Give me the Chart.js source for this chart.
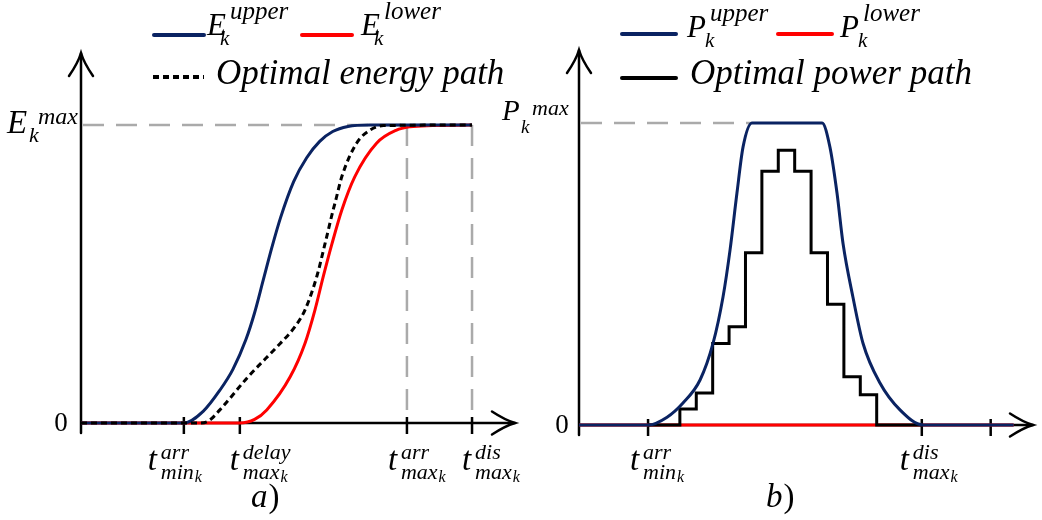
<!DOCTYPE html>
<html>
<head>
<meta charset="utf-8">
<title>Energy and power bounds of vehicle k</title>
<script src="https://cdn.jsdelivr.net/npm/chart.js@4.4.1/dist/chart.umd.min.js"></script>
<style>
  html, body { margin: 0; padding: 0; background: #ffffff; font-family: "Liberation Serif"; }
  #figure { position: relative; width: 1042px; height: 520px; overflow: hidden; background: #ffffff; }
  #figure canvas { position: absolute; top: 0; }
</style>
</head>
<body>
<div id="figure">
  <canvas id="energyPanel" width="545" height="520" style="left:0px"></canvas>
  <canvas id="powerPanel" width="562" height="520" style="left:480px"></canvas>
</div>
<script>
// ---------- panel a) : energy ----------
const energyMax = 1;
const energyUpperT = [0, 2.37, 2.82, 3.20, 3.50, 3.80, 4.00, 4.20, 4.40, 4.60, 4.90, 5.20, 5.50, 5.80, 6.15, 6.66, 9.01];
const energyUpper  = [0, 0, 0.04, 0.11, 0.18, 0.28, 0.37, 0.48, 0.59, 0.69, 0.81, 0.89, 0.945, 0.978, 0.995, 1.0, 1.0];
const energyLowerT = [0, 3.66, 4.00, 4.28, 4.82, 5.16, 5.39, 5.58, 5.78, 6.01, 6.31, 6.81, 7.27, 7.58, 8.10, 9.01];
const energyLower  = [0, 0, 0.012, 0.044, 0.155, 0.267, 0.379, 0.49, 0.60, 0.715, 0.827, 0.939, 0.983, 0.994, 0.998, 1.0];
const energyPathT  = [0, 2.74, 2.95, 3.20, 3.85, 4.59, 4.93, 5.16, 5.43, 5.62, 5.81, 5.87, 6.01, 6.35, 6.66, 6.97, 9.01];
const energyPath   = [0, 0, 0.008, 0.044, 0.155, 0.267, 0.323, 0.379, 0.49, 0.60, 0.715, 0.748, 0.827, 0.939, 0.983, 0.998, 1.0];
const energyTicks   = [2.37, 3.66, 7.51, 9.01];
const energyTickSup = ['arr', 'delay', 'arr', 'dis'];
const energyTickSub = ['min', 'max', 'max', 'max'];

// ---------- panel b) : power ----------
const powerMax = 1;
const powerUpperT = [0, 4.21, 5.37, 6.34, 7.38, 8.17, 8.78, 9.21, 9.63, 10.0, 10.55, 14.82, 15.30, 15.73, 16.1, 16.7, 17.32, 18.35, 19.57, 20.98, 26.5];
const powerUpper  = [0, 0, 0.026, 0.073, 0.149, 0.27, 0.424, 0.58, 0.768, 0.92, 1.0, 1.0, 0.92, 0.768, 0.60, 0.424, 0.27, 0.139, 0.05, 0, 0];
const powerLowerT = [0, 26.5];
const powerLower  = [0, 0];
const powerPathT  = [4.21, 6.15, 7.15, 8.15, 9.15, 10.15, 11.15, 12.15, 13.15, 14.15, 15.15, 16.15, 17.15, 18.15, 20.98];
const powerPath   = [0, 0.053, 0.106, 0.27, 0.325, 0.57, 0.84, 0.91, 0.84, 0.57, 0.40, 0.16, 0.10, 0, 0];
const powerTicks   = [4.21, 20.9, 25.1];
const powerTickSup = ['arr', 'dis', ''];
const powerTickSub = ['min', 'max', ''];

// ---------- styling ----------
const SERIF = '"Liberation Serif"';
const NAVY = '#0a2362';
const RED = '#ff0000';
const GUIDE = '#aaaaaa';

const pts = (xs, ys) => xs.map((x, i) => ({ x, y: ys[i] }));

// symbol with optional superscript, subscript and second-level subscript
function drawMath(ctx, x, y, m) {
  ctx.save();
  ctx.fillStyle = '#000';
  ctx.textAlign = 'left';
  ctx.textBaseline = 'alphabetic';
  ctx.font = `italic ${m.size}px ${SERIF}`;
  ctx.fillText(m.base, x, y);
  if (m.sup) {
    ctx.font = `italic ${m.supSize}px ${SERIF}`;
    ctx.fillText(m.sup, x + m.supDx, y + m.supDy);
  }
  if (m.sub) {
    ctx.font = `italic ${m.subSize}px ${SERIF}`;
    const sx = x + m.subDx;
    ctx.fillText(m.sub, sx, y + m.subDy);
    if (m.subsub) {
      const w = ctx.measureText(m.sub).width;
      ctx.font = `italic ${m.subsubSize}px ${SERIF}`;
      ctx.fillText(m.subsub, sx + w + 1, y + m.subDy + m.subsubDy);
    }
  }
  ctx.restore();
}

function arrowHead(ctx, tx, ty, dir) {
  // open, slightly curved arrow head
  ctx.beginPath();
  if (dir === 'right') {
    ctx.moveTo(tx - 23, ty - 11.5);
    ctx.quadraticCurveTo(tx - 10, ty - 3, tx, ty);
    ctx.quadraticCurveTo(tx - 10, ty + 3, tx - 23, ty + 11.5);
  } else {
    ctx.moveTo(tx - 12, ty + 23);
    ctx.quadraticCurveTo(tx - 3, ty + 10, tx, ty);
    ctx.quadraticCurveTo(tx + 3, ty + 10, tx + 12, ty + 23);
  }
  ctx.stroke();
}

function dashedGuide(ctx, x0, y0, x1, y1) {
  ctx.save();
  ctx.strokeStyle = GUIDE;
  ctx.lineWidth = 2.5;
  ctx.setLineDash([21, 12]);
  ctx.beginPath();
  ctx.moveTo(x0, y0);
  ctx.lineTo(x1, y1);
  ctx.stroke();
  ctx.restore();
}

function legendLine(ctx, x0, x1, y, color, dash) {
  ctx.save();
  ctx.strokeStyle = color;
  ctx.lineWidth = 4;
  ctx.lineCap = dash ? 'butt' : 'round';
  if (dash) ctx.setLineDash(dash);
  ctx.beginPath();
  ctx.moveTo(x0, y);
  ctx.lineTo(x1, y);
  ctx.stroke();
  ctx.restore();
}

function plainText(ctx, text, x, y, size, italic) {
  ctx.save();
  ctx.fillStyle = '#000';
  ctx.textAlign = 'left';
  ctx.textBaseline = 'alphabetic';
  ctx.font = `${italic ? 'italic ' : ''}${size}px ${SERIF}`;
  ctx.fillText(text, x, y);
  ctx.restore();
}

// axes, ticks, guides, labels and legend of one panel;
// fixed text positions are given in page coordinates (cfg.offsetX = canvas left)
function panelDecor(cfg) {
  return {
    id: 'decor_' + cfg.key,
    beforeDatasetsDraw(chart) {
      const ctx = chart.ctx;
      const xs = chart.scales.x, ys = chart.scales.y;
      const a = chart.chartArea;
      const y0 = ys.getPixelForValue(0);
      const x0 = xs.getPixelForValue(0);
      const yMax = ys.getPixelForValue(cfg.maxValue);
      dashedGuide(ctx, x0 + 2, yMax, xs.getPixelForValue(cfg.hGuideEnd), yMax);
      cfg.vGuides.forEach(t => {
        const gx = xs.getPixelForValue(t);
        dashedGuide(ctx, gx, yMax, gx, y0);
      });
      ctx.save();
      ctx.strokeStyle = '#000';
      ctx.lineWidth = 2.5;
      ctx.lineCap = 'round';
      ctx.beginPath();
      ctx.moveTo(x0, y0 + 10);
      ctx.lineTo(x0, a.top);
      ctx.moveTo(x0, y0);
      ctx.lineTo(a.right, y0);
      ctx.stroke();
      arrowHead(ctx, x0, a.top, 'up');
      arrowHead(ctx, a.right, y0, 'right');
      ctx.lineCap = 'butt';
      cfg.ticks.forEach(t => {
        const tx = xs.getPixelForValue(t);
        ctx.beginPath();
        ctx.moveTo(tx, y0 - 6);
        ctx.lineTo(tx, y0 + 11);
        ctx.stroke();
      });
      ctx.restore();
    },
    afterDraw(chart) {
      const ctx = chart.ctx;
      const xs = chart.scales.x, ys = chart.scales.y;
      const off = cfg.offsetX;
      const y0 = ys.getPixelForValue(0);
      const yMax = ys.getPixelForValue(cfg.maxValue);
      ctx.save();
      ctx.translate(-off, 0);
      // zero label
      ctx.save();
      ctx.fillStyle = '#000';
      ctx.font = `27px ${SERIF}`;
      ctx.textAlign = 'center';
      ctx.textBaseline = 'alphabetic';
      ctx.fillText('0', cfg.zeroX, y0 + 8);
      ctx.restore();
      // maximum level label on the y axis
      drawMath(ctx, cfg.maxLabel.x, yMax + cfg.maxLabel.dy, cfg.maxLabel.m);
      // tick labels
      cfg.ticks.forEach((t, i) => {
        if (!cfg.tickSup[i]) return;
        const tx = xs.getPixelForValue(t) + off + cfg.tickShift[i];
        drawMath(ctx, tx, 470, {
          base: 't', size: 33,
          sup: cfg.tickSup[i], supSize: 22, supDx: 13, supDy: -11,
          sub: cfg.tickSub[i], subSize: 22, subDx: 13, subDy: 9,
          subsub: 'k', subsubSize: 16, subsubDy: 3
        });
      });
      // panel caption
      plainText(ctx, cfg.caption, cfg.captionX, 507, 33, true);
      ctx.save();
      ctx.font = `italic 33px ${SERIF}`;
      const cw = ctx.measureText(cfg.caption).width;
      ctx.restore();
      plainText(ctx, ')', cfg.captionX + cw + 1, 507, 33, false);
      // legend
      const L = cfg.legend;
      legendLine(ctx, L.row1[0].x0, L.row1[0].x1, L.row1[0].y, NAVY);
      drawMath(ctx, L.row1[0].tx, L.row1[0].ty, L.row1[0].m);
      legendLine(ctx, L.row1[1].x0, L.row1[1].x1, L.row1[1].y, RED);
      drawMath(ctx, L.row1[1].tx, L.row1[1].ty, L.row1[1].m);
      legendLine(ctx, L.row2.x0, L.row2.x1, L.row2.y, '#000', L.row2.dash);
      plainText(ctx, L.row2.text, L.row2.tx, L.row2.ty, 35, true);
      ctx.restore();
    }
  };
}

const legendMath = (base) => (sup) => ({
  base, size: 31, sup, supSize: 25, supDx: 23, supDy: -16,
  sub: 'k', subSize: 21, subDx: base === 'E' ? 13 : 18, subDy: 10
});

const energyDecor = panelDecor({
  key: 'energy',
  offsetX: 0,
  maxValue: energyMax,
  hGuideEnd: energyTicks[3],
  vGuides: [energyTicks[2], energyTicks[3]],
  ticks: energyTicks,
  tickSup: energyTickSup,
  tickSub: energyTickSub,
  tickShift: [-36, -10, -19, -10],
  zeroX: 61,
  maxLabel: { x: 7, dy: 8, m: { base: 'E', size: 33, sup: 'max', supSize: 24, supDx: 31, supDy: -9,
                                 sub: 'k', subSize: 22, subDx: 22, subDy: 9 } },
  caption: 'a',
  captionX: 251,
  legend: {
    row1: [
      { x0: 154, x1: 204, y: 35, tx: 207, ty: 35, m: legendMath('E')('upper') },
      { x0: 302, x1: 352, y: 35, tx: 361, ty: 35, m: legendMath('E')('lower') }
    ],
    row2: { x0: 153, x1: 204, y: 77, dash: [6, 4], text: 'Optimal energy path', tx: 216, ty: 84 }
  }
});

const powerDecor = panelDecor({
  key: 'power',
  offsetX: 480,
  maxValue: powerMax,
  hGuideEnd: powerUpperT[powerUpper.indexOf(powerMax)],
  vGuides: [],
  ticks: powerTicks,
  tickSup: powerTickSup,
  tickSub: powerTickSub,
  tickShift: [-18, -22, 0],
  zeroX: 562,
  maxLabel: { x: 502, dy: -3, m: { base: 'P', size: 29, sup: 'max', supSize: 22, supDx: 30, supDy: -5,
                                   sub: 'k', subSize: 19, subDx: 19, subDy: 13 } },
  caption: 'b',
  captionX: 766,
  legend: {
    row1: [
      { x0: 622, x1: 676, y: 34, tx: 687, ty: 37, m: legendMath('P')('upper') },
      { x0: 778, x1: 832, y: 34, tx: 840, ty: 37, m: legendMath('P')('lower') }
    ],
    row2: { x0: 622, x1: 676, y: 78, dash: null, text: 'Optimal power path', tx: 690, ty: 84 }
  }
});

const lineDefaults = { pointRadius: 0, borderWidth: 3, fill: false, clip: false, tension: 0 };

const energyChart = new Chart(document.getElementById('energyPanel'), {
  type: 'line',
  data: {
    datasets: [
      { ...lineDefaults, label: 'Optimal energy path', data: pts(energyPathT, energyPath),
        borderColor: '#000', borderDash: [6, 4], cubicInterpolationMode: 'monotone' },
      { ...lineDefaults, label: 'E upper', data: pts(energyUpperT, energyUpper),
        borderColor: NAVY, cubicInterpolationMode: 'monotone' },
      { ...lineDefaults, label: 'E lower', data: pts(energyLowerT, energyLower),
        borderColor: RED, cubicInterpolationMode: 'monotone' }
    ]
  },
  options: {
    responsive: false, animation: false, events: [],
    layout: { padding: { left: 81, right: 30, top: 53, bottom: 97 } },
    scales: {
      x: { type: 'linear', min: 0, max: 10, display: false },
      y: { type: 'linear', min: 0, max: 1.2416, display: false }
    },
    plugins: { legend: { display: false }, tooltip: { enabled: false } }
  },
  plugins: [energyDecor]
});

const powerChart = new Chart(document.getElementById('powerPanel'), {
  type: 'line',
  data: {
    datasets: [
      { ...lineDefaults, label: 'P upper', data: pts(powerUpperT, powerUpper),
        borderColor: NAVY, cubicInterpolationMode: 'monotone' },
      { ...lineDefaults, label: 'Optimal power path', data: pts(powerPathT, powerPath),
        borderColor: '#000', stepped: 'before' },
      { ...lineDefaults, label: 'P lower', data: pts(powerLowerT, powerLower),
        borderColor: RED }
    ]
  },
  options: {
    responsive: false, animation: false, events: [],
    layout: { padding: { left: 99, right: 9, top: 50, bottom: 95 } },
    scales: {
      x: { type: 'linear', min: 0, max: 27.68, display: false },
      y: { type: 'linear', min: 0, max: 1.2417, display: false }
    },
    plugins: { legend: { display: false }, tooltip: { enabled: false } }
  },
  plugins: [powerDecor]
});

// repaint once the serif faces are ready
if (document.fonts && document.fonts.load) {
  Promise.all([
    document.fonts.load('italic 30px "Liberation Serif"'),
    document.fonts.load('30px "Liberation Serif"')
  ]).then(() => { energyChart.draw(); powerChart.draw(); });
}
</script>
</body>
</html>
